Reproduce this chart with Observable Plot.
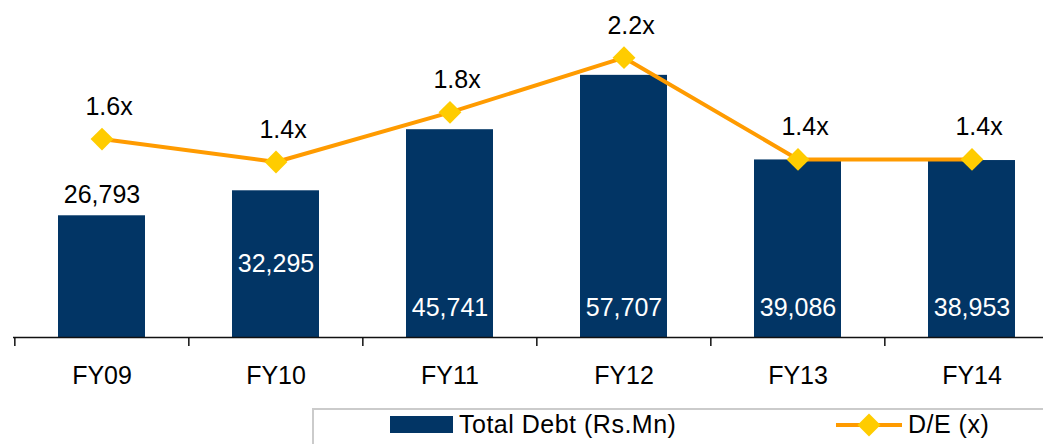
<!DOCTYPE html>
<html>
<head>
<meta charset="utf-8">
<script src="https://cdn.jsdelivr.net/npm/d3@7"></script>
<script src="https://cdn.jsdelivr.net/npm/@observablehq/plot@0.6"></script>
<style>
  html, body { margin: 0; padding: 0; background: #fff; }
  body { width: 1043px; height: 444px; overflow: hidden; font-family: "Liberation Sans", Arial, sans-serif; }
  #chart svg { display: block; overflow: visible; }
  #legend { position: relative; height: 44px; }
  #legend .box { position: absolute; left: 312px; top: 8px; right: -4px; bottom: -4px;
    border-top: 2px solid #cbcbcb; border-left: 2px solid #cbcbcb; }
  #legend .item { position: absolute; top: 10px; display: flex; align-items: center;
    font-size: 25px; letter-spacing: 0.5px; color: #000; }
  #legend svg { display: block; margin-right: 6px; }
</style>
</head>
<body>
<div id="chart"></div>
<div id="legend"></div>
<script>
const years = ["FY09", "FY10", "FY11", "FY12", "FY13", "FY14"];
const totalDebt = [26793, 32295, 45741, 57707, 39086, 38953];
const deRatio = [1.56, 1.38, 1.77, 2.2, 1.4, 1.4];
const debtLabelPlacement = ["outside", "middle", "base", "base", "base", "base"];
const seriesNames = ["Total Debt (Rs.Mn)", "D/E (x)"];

const barColor = "#023565";
const lineColor = "#FF9B00";
const markerColor = "#FFCC00";

// secondary axis (D/E) mapped onto primary scale
const debtMax = 70000, deMax = 2.5;
const de2debt = d3.scaleLinear([0, deMax], [0, debtMax]);

const data = years.map((y, i) => ({
  year: y, debt: totalDebt[i], de: deRatio[i], deY: de2debt(deRatio[i]),
  place: debtLabelPlacement[i]
}));

const W = 1043, H = 400;
const xRange = [13, 1059];
const step = (xRange[1] - xRange[0]) / years.length;
const fmt = d3.format(",");
const font = "Liberation Sans, Arial, sans-serif";

const chart = Plot.plot({
  width: W, height: H,
  marginLeft: 13, marginRight: 0, marginTop: 19, marginBottom: 63,
  style: { fontFamily: font, background: "#fff" },
  x: { type: "band", domain: years, range: xRange, paddingInner: 0.5, paddingOuter: 0.25, label: null },
  y: { domain: [0, debtMax], axis: null },
  marks: [
    Plot.barY(data, { x: "year", y: "debt", fill: barColor }),
    Plot.ruleY([0], { stroke: "#111", strokeWidth: 1.5 }),
    Plot.axisX({ tickSize: 9, tickFormat: () => "", label: null, dx: -step / 2, stroke: "#111", strokeWidth: 1.5 }),
    Plot.axisX({ tickSize: 0, tickPadding: 29, label: null, fontSize: 25, fill: "#000", style: { letterSpacing: "0.5px" } }),
    Plot.line(data, { x: "year", y: "deY", stroke: lineColor, strokeWidth: 4 }),
    Plot.dot(data, { x: "year", y: "deY", symbol: "diamond2", r: 10.3, fill: markerColor, stroke: "none" }),
    Plot.text(data, { x: "year", y: "deY", text: d => d.de.toFixed(1) + "x", dy: -32, dx: 7,
      fontSize: 25, fill: "#000", style: { letterSpacing: "0.5px" } }),
    Plot.text(data.filter(d => d.place === "outside"), { x: "year", y: "debt", text: d => fmt(d.debt),
      dy: -21, fontSize: 25, fill: "#000", style: { letterSpacing: "0.5px" } }),
    Plot.text(data.filter(d => d.place === "middle"), { x: "year", y: d => d.debt / 2, text: d => fmt(d.debt),
      fontSize: 25, fill: "#fff", style: { letterSpacing: "0.5px" } }),
    Plot.text(data.filter(d => d.place === "base"), { x: "year", y: 0, text: d => fmt(d.debt),
      dy: -30, fontSize: 25, fill: "#fff", style: { letterSpacing: "0.5px" } })
  ]
});
document.getElementById("chart").appendChild(chart);

// legend
const legend = document.getElementById("legend");
const box = document.createElement("div");
box.className = "box";
legend.appendChild(box);

const item1 = document.createElement("div");
item1.className = "item";
item1.style.left = "390px";
item1.innerHTML = `<svg width="63" height="17"><rect x="0" y="0" width="63" height="17" fill="${barColor}"/></svg><span>${seriesNames[0]}</span>`;
legend.appendChild(item1);

const item2 = document.createElement("div");
item2.className = "item";
item2.style.left = "836px";
item2.innerHTML = `<svg width="66" height="24"><line x1="0" y1="12" x2="66" y2="12" stroke="${lineColor}" stroke-width="4"/><path d="M33,0.5 L44.5,12 L33,23.5 L21.5,12 Z" fill="${markerColor}"/></svg><span>${seriesNames[1]}</span>`;
legend.appendChild(item2);
</script>
</body>
</html>
